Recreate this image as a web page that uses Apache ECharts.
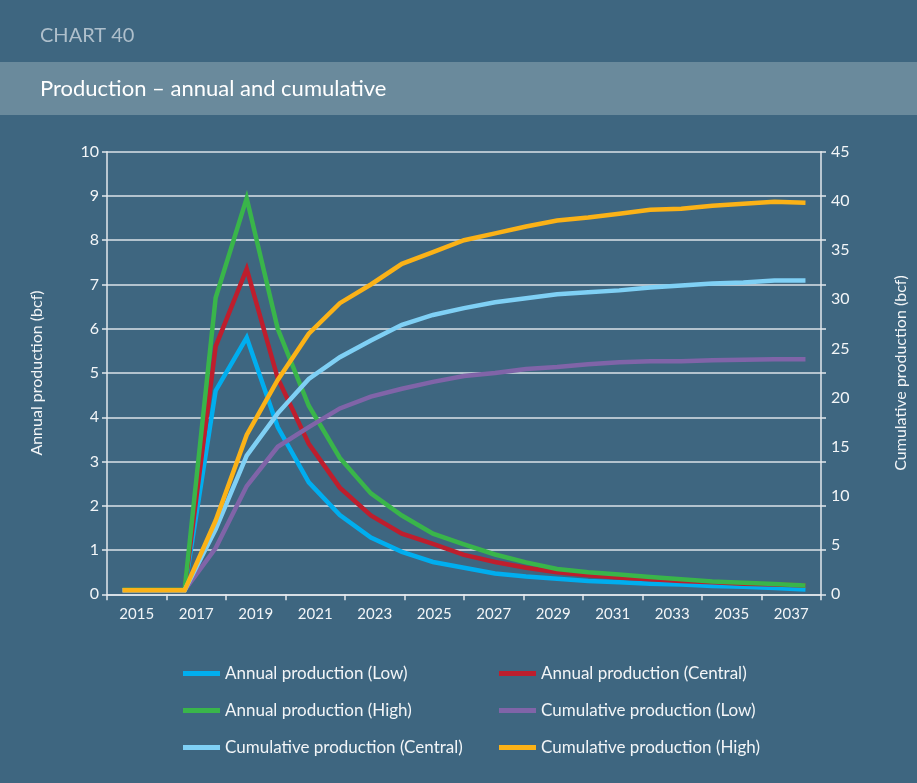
<!DOCTYPE html>
<html><head><meta charset="utf-8">
<script src="https://cdn.jsdelivr.net/npm/echarts@6/dist/echarts.min.js"></script>
<style>html,body{margin:0;padding:0;background:#3e6680;}#c{width:917px;height:783px;}</style>
</head><body><div id="c"></div>
<script>
// Categories (one per year) used for plotting
const years = ['2015','2016','2017','2018','2019','2020','2021','2022','2023','2024','2025','2026','2027','2028','2029','2030','2031','2032','2033','2034','2035','2036','2037'];
// Visible tick labels on the x axis
const xTickLabels = ['2015','2017','2019','2021','2023','2025','2027','2029','2031','2033','2035','2037'];

// Annual production (bcf) - left axis
const annualLow     = [0.1,0.1,0.1,4.6,5.8,3.78,2.53,1.79,1.28,0.96,0.73,0.6,0.47,0.4,0.35,0.3,0.27,0.24,0.22,0.19,0.17,0.14,0.11];
const annualCentral = [0.1,0.1,0.1,5.6,7.35,4.88,3.4,2.41,1.78,1.37,1.14,0.89,0.73,0.6,0.5,0.43,0.38,0.34,0.3,0.27,0.24,0.22,0.2];
const annualHigh    = [0.1,0.1,0.1,6.7,8.95,6.0,4.26,3.08,2.28,1.78,1.37,1.13,0.9,0.72,0.57,0.5,0.45,0.39,0.34,0.29,0.26,0.23,0.2];
// Cumulative production (bcf) - right axis
const cumulativeLow     = [0.4,0.4,0.4,4.7,11.0,15.0,17.0,18.9,20.1,20.9,21.6,22.2,22.5,22.9,23.1,23.4,23.6,23.7,23.7,23.8,23.85,23.9,23.9];
const cumulativeCentral = [0.4,0.4,0.4,6.6,14.1,18.4,21.9,24.1,25.8,27.4,28.4,29.1,29.7,30.1,30.5,30.7,30.9,31.2,31.4,31.6,31.7,31.9,31.9];
const cumulativeHigh    = [0.4,0.4,0.4,7.5,16.2,21.8,26.5,29.6,31.5,33.6,34.8,36.0,36.7,37.4,38.0,38.3,38.7,39.1,39.2,39.5,39.7,39.9,39.8];

const seriesNames = ['Annual production (Low)','Annual production (Central)','Annual production (High)','Cumulative production (Low)','Cumulative production (Central)','Cumulative production (High)'];
const seriesData = [annualLow, annualCentral, annualHigh, cumulativeLow, cumulativeCentral, cumulativeHigh];
const seriesColors = ['#00aeef','#be1e2d','#39b54a','#8064a8','#7fd0f5','#fbb217'];
const seriesAxis = [0,0,0,1,1,1];

const FONT = 'Lato';
const TXT = '#f2f5f7';
const LINE = '#e3e9ed';

const chart = echarts.init(document.getElementById('c'), null, {renderer:'canvas'});
chart.setOption({
  backgroundColor:'#3e6680',
  animation:false,
  graphic:[
    {type:'rect', shape:{x:0,y:62,width:917,height:53}, style:{fill:'#6a8a9c'}, silent:true},
    {type:'text', x:40, y:36, style:{text:'CHART 40', fill:'#aebfcb', font:'20px Lato', verticalAlign:'middle'}},
    {type:'text', x:40, y:89, style:{text:'Production – annual and cumulative', fill:'#ffffff', font:'22px Lato', verticalAlign:'middle'}}
  ],
  grid:{left:107, right:91.3, top:151.7, bottom:188.7},
  legend:[
    {orient:'vertical', left:178, top:660, itemWidth:37, itemHeight:5, itemGap:20, icon:'rect', selectedMode:false,
     textStyle:{color:TXT, fontSize:17, fontFamily:FONT},
     data:[seriesNames[0], seriesNames[2], seriesNames[4]]},
    {orient:'vertical', left:494, top:660, itemWidth:37, itemHeight:5, itemGap:20, icon:'rect', selectedMode:false,
     textStyle:{color:TXT, fontSize:17, fontFamily:FONT},
     data:[seriesNames[1], seriesNames[3], seriesNames[5]]}
  ],
  xAxis:[
    {type:'category', data:xTickLabels, boundaryGap:true, position:'bottom',
     axisLine:{lineStyle:{color:LINE, width:1.5}},
     axisTick:{show:true, length:6, lineStyle:{color:LINE, width:1.5}},
     axisLabel:{color:TXT, fontSize:15, fontFamily:FONT, margin:12, interval:0},
     splitLine:{show:false}},
    {type:'category', data:years, boundaryGap:true, show:false}
  ],
  yAxis:[
    {type:'value', min:0, max:10, interval:1, position:'left',
     name:'Annual production (bcf)', nameLocation:'middle', nameRotate:90, nameGap:62,
     nameTextStyle:{color:TXT, fontSize:16, fontFamily:FONT},
     axisLine:{show:true, lineStyle:{color:LINE, width:1.5}},
     axisTick:{show:true, length:5, lineStyle:{color:LINE, width:1.5}},
     axisLabel:{color:TXT, fontSize:16, fontFamily:FONT, margin:8},
     splitLine:{show:true, lineStyle:{color:'#dbe3e8', width:1.5}}},
    {type:'value', min:0, max:45, interval:5, position:'right',
     name:'Cumulative production (bcf)', nameLocation:'middle', nameRotate:90, nameGap:72,
     nameTextStyle:{color:TXT, fontSize:16, fontFamily:FONT},
     axisLine:{show:false}, axisTick:{show:false},
     axisLabel:{color:TXT, fontSize:16, fontFamily:FONT, margin:10},
     splitLine:{show:false}},
    {type:'value', min:0, max:10, interval:1, position:'right',
     axisLine:{show:true, lineStyle:{color:LINE, width:1.5}},
     axisTick:{show:true, length:5, lineStyle:{color:LINE, width:1.5}},
     axisLabel:{show:false}, splitLine:{show:false}}
  ],
  series: seriesNames.map((n,i)=>({
    name:n, type:'line', xAxisIndex:1, yAxisIndex:seriesAxis[i], data:seriesData[i],
    symbol:'none', color:seriesColors[i],
    lineStyle:{width:4.5, color:seriesColors[i], join:'miter'},
    emphasis:{disabled:true}, z:2+i
  }))
});
</script></body></html>
